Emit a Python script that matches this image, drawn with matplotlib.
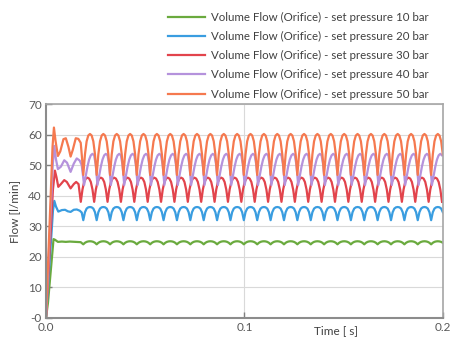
import numpy as np
import matplotlib.pyplot as plt

plt.rcParams['font.family'] = ['Lato', 'DejaVu Sans']

labels = ['Volume Flow (Orifice) - set pressure 10 bar',
          'Volume Flow (Orifice) - set pressure 20 bar',
          'Volume Flow (Orifice) - set pressure 30 bar',
          'Volume Flow (Orifice) - set pressure 40 bar',
          'Volume Flow (Orifice) - set pressure 50 bar']
colors = ['#6aaa3e', '#3a9de0', '#e2444c', '#b592dc', '#f5794f']

# start-up transient (time [s], flow [l/min])
start_10_t = [0.0, 0.0010, 0.0038, 0.0045, 0.0060, 0.0080, 0.0100, 0.0120, 0.0150, 0.0175]
start_10_q = [0.0, 5.0, 25.8, 25.6, 24.9, 25.0, 24.9, 25.0, 24.9, 24.8]
start_20_t = [0.0, 0.0035, 0.0042, 0.0050, 0.0062, 0.0080, 0.0096, 0.0110, 0.0124, 0.0140, 0.0155, 0.0170, 0.0180]
start_20_q = [0.0, 35.0, 38.3, 36.5, 34.8, 35.3, 35.4, 34.9, 34.7, 35.4, 35.5, 35.1, 34.5]
start_30_t = [0.0, 0.0035, 0.0045, 0.0053, 0.0062, 0.0075, 0.0092, 0.0105, 0.0124, 0.0140, 0.0152, 0.0164]
start_30_q = [0.0, 42.0, 48.2, 46.0, 42.9, 43.8, 45.1, 44.5, 42.4, 43.8, 44.5, 43.8]
start_40_t = [0.0, 0.0034, 0.0042, 0.0050, 0.0060, 0.0075, 0.0092, 0.0106, 0.0124, 0.0140, 0.0155, 0.0170, 0.0180]
start_40_q = [0.0, 50.0, 56.3, 52.0, 48.7, 49.5, 51.6, 50.8, 47.8, 50.5, 52.2, 51.5, 50.0]
start_50_t = [0.0, 0.0033, 0.0040, 0.0048, 0.0060, 0.0072, 0.0088, 0.0100, 0.0113, 0.0124, 0.0135, 0.0150, 0.0163, 0.0175, 0.0182]
start_50_q = [0.0, 56.0, 62.3, 58.0, 53.0, 54.5, 58.5, 58.8, 56.0, 52.8, 55.0, 58.8, 58.6, 57.3, 52.0]

# one steady oscillation cycle (8 samples, starting at the trough)
cycle_10 = [24.1, 24.6, 24.9, 25.05, 25.1, 25.05, 24.9, 24.6]
cycle_20 = [32.0, 34.6, 35.8, 36.2, 36.3, 36.2, 35.8, 34.6]
cycle_30 = [38.0, 42.0, 44.5, 45.6, 45.9, 45.6, 44.5, 42.0]
cycle_40 = [43.5, 46.5, 49.5, 51.8, 53.2, 53.7, 53.2, 50.0]
cycle_50 = [46.8, 53.5, 57.8, 59.7, 60.2, 59.7, 57.8, 53.5]
first_trough = [0.01879, 0.01879, 0.01753, 0.01920, 0.01879]
period = 0.00674
t_end = 0.2

starts = [(start_10_t, start_10_q), (start_20_t, start_20_q), (start_30_t, start_30_q),
          (start_40_t, start_40_q), (start_50_t, start_50_q)]
cycles = [cycle_10, cycle_20, cycle_30, cycle_40, cycle_50]

fig = plt.figure(figsize=(4.5, 3.42), dpi=100)
ax = fig.add_axes([0.1022, 0.0702, 0.8822, 0.6257])

handles = []
for (st, sq), cyc, t0, c, lab in zip(starts, cycles, first_trough, colors, labels):
    n_cyc = int(np.ceil((t_end - t0) / period)) + 1
    ct = t0 + np.arange(n_cyc * len(cyc)) * period / len(cyc)
    cq = np.tile(cyc, n_cyc)
    keep = ct <= t_end
    t = np.concatenate([st, ct[keep]])
    q = np.concatenate([sq, cq[keep]])
    h, = ax.plot(t, q, color=c, lw=1.6, label=lab)
    handles.append(h)

ax.set_xlim(0, 0.2)
ax.set_ylim(0, 70)
ax.set_yticks(np.arange(0, 71, 10))
ax.set_yticklabels(['-0', '10', '20', '30', '40', '50', '60', '70'])
ax.set_xticks([0.0, 0.1, 0.2])
ax.set_xticklabels(['0.0', '0.1', '0.2'])
ax.yaxis.grid(True, color='#d9d9d9', lw=0.8)
ax.axvline(0.1, color='#d9d9d9', lw=0.8, zorder=0)
ax.set_axisbelow(True)
ax.tick_params(direction='in', length=4, width=1, color='#808080', labelcolor='#595959', labelsize=8.5, pad=3)
for s in ['left', 'bottom']:
    ax.spines[s].set_color('#8c8c8c')
    ax.spines[s].set_linewidth(1.5)
for s in ['top', 'right']:
    ax.spines[s].set_color('#a6a6a6')
    ax.spines[s].set_linewidth(1.2)

ax.set_ylabel('Flow [l/min]', color='#404040', fontsize=8.5, labelpad=6)
ax.text(0.73, -0.035, 'Time [ s]', transform=ax.transAxes, ha='center', va='top',
        color='#404040', fontsize=8.5)

fig.legend(handles=handles, loc='upper right', bbox_to_anchor=(0.975, 0.995),
           frameon=False, fontsize=8.3, handlelength=3.2, labelspacing=0.70,
           handletextpad=0.5, labelcolor='#404040')

fig.savefig('out.png', dpi=100)
